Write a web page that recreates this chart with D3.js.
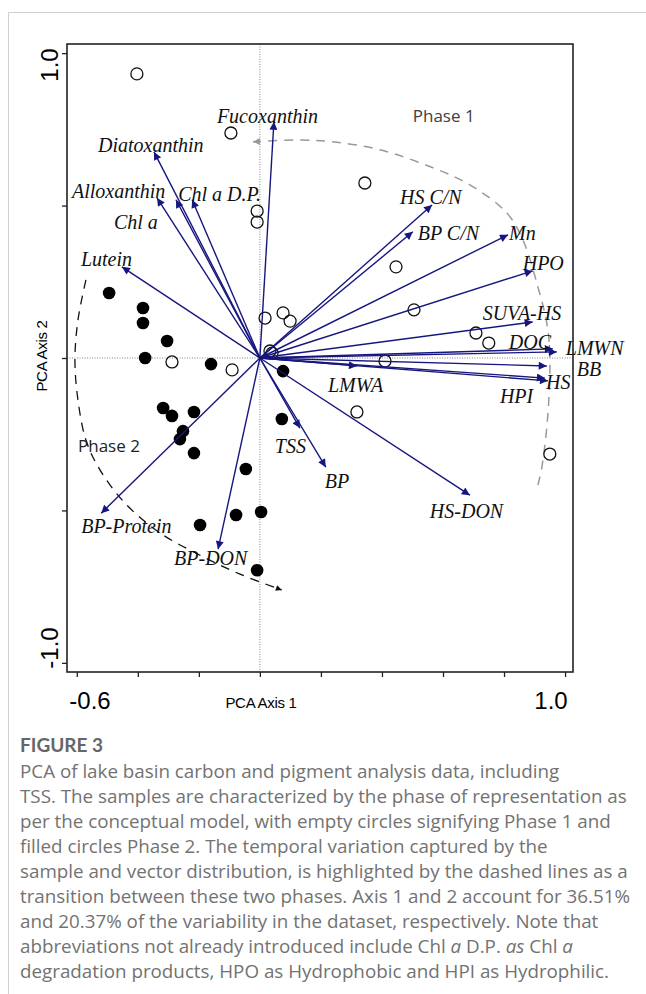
<!DOCTYPE html>
<html>
<head>
<meta charset="utf-8">
<script src="https://cdn.jsdelivr.net/npm/d3@7"></script>
<style>
  body { margin: 0; background: #fff; }
</style>
</head>
<body>
<div class="fig"></div>
<script>
// loading vectors (PCA Axis 1, PCA Axis 2)
const vectorNames = ["Fucoxanthin", "Diatoxanthin", "Alloxanthin", "Chl a", "Chl a D.P.", "Lutein",
  "HS C/N", "BP C/N", "Mn", "HPO", "SUVA-HS", "DOC", "LMWN", "BB", "HS", "HPI",
  "LMWA", "TSS", "BP", "HS-DON", "BP-Protein", "BP-DON"];
const vectorAxis1 = [0.046, -0.347, -0.337, -0.275, -0.222, -0.452,
  0.564, 0.501, 0.813, 0.894, 0.894, 0.960, 0.973, 0.940, 0.944, 0.934,
  0.318, 0.131, 0.216, 0.688, -0.520, -0.137];
const vectorAxis2 = [0.775, 0.676, 0.525, 0.519, 0.519, 0.299,
  0.502, 0.414, 0.404, 0.286, 0.118, 0.030, 0.020, -0.026, -0.075, -0.066,
  -0.026, -0.230, -0.358, -0.450, -0.509, -0.627];
// label offsets from arrow tip, in px
const labelNudge = [[-57, 1], [-56, 0], [-85, 0], [-62, 29], [-14, 1], [-41, -1],
  [-32, -1], [5, 8], [1, 5], [-10, -1], [-50, -2], [-44, 0], [9, 3], [30, 10], [-2, 8], [-45, 25],
  [-29, 26], [-25, 25], [-1, 21], [-40, 23], [-20, 20], [-44, 16]];

// samples
const phase1Axis1 = [-0.403, -0.095, -0.009, -0.009, 0.344, 0.446, 0.505, 0.708, 0.750, 0.410,
  0.318, 0.950, 0.017, 0.076, 0.099, 0.033, 0.040, -0.288, -0.091];
const phase1Axis2 = [0.932, 0.738, 0.482, 0.446, 0.574, 0.299, 0.158, 0.082, 0.049, -0.010,
  -0.177, -0.315, 0.131, 0.148, 0.121, 0.023, 0.016, -0.013, -0.039];
const phase2Axis1 = [-0.494, -0.383, -0.383, -0.304, -0.376, -0.160, 0.076, -0.317, -0.288, -0.216,
  -0.252, -0.262, 0.072, -0.216, -0.046, -0.078, 0.004, -0.196, -0.009];
const phase2Axis2 = [0.213, 0.164, 0.115, 0.056, 0.000, -0.020, -0.043, -0.164, -0.190, -0.177,
  -0.240, -0.266, -0.200, -0.312, -0.364, -0.515, -0.505, -0.548, -0.696];

// dashed transition lines
const arc1Axis1 = [0.911, 0.924, 0.944, 0.950, 0.940, 0.911, 0.862, 0.809, 0.688, 0.567, 0.393, 0.239, 0.131, -0.023];
const arc1Axis2 = [-0.417, -0.358, -0.181, 0.016, 0.115, 0.233, 0.387, 0.476, 0.568, 0.624, 0.683, 0.709, 0.715, 0.709];
const arc2Axis1 = [-0.570, -0.596, -0.606, -0.596, -0.570, -0.524, -0.442, -0.327, -0.196, -0.065, 0.072];
const arc2Axis2 = [0.256, 0.125, -0.007, -0.138, -0.269, -0.367, -0.476, -0.574, -0.647, -0.709, -0.761];

const xTicks = [-0.6, -0.4, -0.2, 0, 0.2, 0.4, 0.6, 0.8, 1.0];
const yTicks = [-1.0, -0.5, 0, 0.5, 1.0];

const captionTitle = "FIGURE 3";
const captionLines = [
  "PCA of lake basin carbon and pigment analysis data, including",
  "TSS. The samples are characterized by the phase of representation as",
  "per the conceptual model, with empty circles signifying Phase 1 and",
  "filled circles Phase 2. The temporal variation captured by the",
  "sample and vector distribution, is highlighted by the dashed lines as a",
  "transition between these two phases. Axis 1 and 2 account for 36.51%",
  "and 20.37% of the variability in the dataset, respectively. Note that",
  "abbreviations not already introduced include Chl |a| D.P. |as| Chl |a|",
  "degradation products, HPO as Hydrophobic and HPI as Hydrophilic."
];

const width = 646, height = 994;
const plot = { left: 67, right: 573, top: 44, bottom: 672 };
const navy = "#16167f";
const fmt = d3.formatLocale({ decimal: ".", thousands: ",", grouping: [3], currency: ["", ""], minus: "-" }).format(".1f");

const x = d3.scaleLinear().domain([-0.632, 1.026]).range([plot.left, plot.right]);
const y = d3.scaleLinear().domain([-1.03, 1.03]).range([plot.bottom, plot.top]);

const svg = d3.select(".fig").append("svg")
  .attr("width", width)
  .attr("height", height);

// frame of the figure panel
svg.append("path")
  .attr("d", `M8.5,${height}V12.5H${width}`)
  .attr("fill", "none")
  .attr("stroke", "#d0d0d0")
  .attr("stroke-width", 1);

const defs = svg.append("defs");
function head(id, color, w, h) {
  defs.append("marker")
    .attr("id", id)
    .attr("viewBox", "0 0 10 10")
    .attr("refX", 10).attr("refY", 5)
    .attr("markerWidth", w).attr("markerHeight", h)
    .attr("markerUnits", "userSpaceOnUse")
    .attr("orient", "auto")
    .append("path")
    .attr("d", "M0,0L10,5L0,10z")
    .attr("fill", color);
}
head("navyHead", navy, 12, 8);
head("grayHead", "#999", 10, 7);
head("blackHead", "#111", 9, 6);

// zero lines
svg.append("line")
  .attr("x1", x(0)).attr("x2", x(0))
  .attr("y1", plot.top).attr("y2", plot.bottom)
  .attr("stroke", "#666").attr("stroke-width", 0.8)
  .attr("stroke-dasharray", "1,1.5");
svg.append("line")
  .attr("x1", plot.left).attr("x2", plot.right)
  .attr("y1", y(0)).attr("y2", y(0))
  .attr("stroke", "#666").attr("stroke-width", 0.8)
  .attr("stroke-dasharray", "1,1.5");

// axes, ticks only
const xAxis = svg.append("g")
  .attr("transform", `translate(0,${plot.bottom})`)
  .call(d3.axisBottom(x).tickValues(xTicks).tickSize(5).tickFormat(""));
const yAxis = svg.append("g")
  .attr("transform", `translate(${plot.left},0)`)
  .call(d3.axisLeft(y).tickValues(yTicks).tickSize(5).tickFormat(""));
[xAxis, yAxis].forEach(g => {
  g.select(".domain").remove();
  g.selectAll("line").attr("stroke", "#222").attr("stroke-width", 1.3);
});

svg.append("rect")
  .attr("x", plot.left).attr("y", plot.top)
  .attr("width", plot.right - plot.left)
  .attr("height", plot.bottom - plot.top)
  .attr("fill", "none")
  .attr("stroke", "#222")
  .attr("stroke-width", 1.6);

// end tick labels
const big = "'Liberation Sans', Arial, sans-serif";
svg.append("text").attr("x", 90).attr("y", 709)
  .attr("text-anchor", "middle").attr("font-family", big).attr("font-size", 24)
  .text(fmt(xTicks[0]));
svg.append("text").attr("x", 551).attr("y", 709)
  .attr("text-anchor", "middle").attr("font-family", big).attr("font-size", 24)
  .text(fmt(xTicks[xTicks.length - 1]));
svg.append("text").attr("transform", "translate(58,65) rotate(-90)")
  .attr("text-anchor", "middle").attr("font-family", big).attr("font-size", 24)
  .text(fmt(yTicks[yTicks.length - 1]));
svg.append("text").attr("transform", "translate(58,648) rotate(-90)")
  .attr("text-anchor", "middle").attr("font-family", big).attr("font-size", 24)
  .text(fmt(yTicks[0]));

svg.append("text").attr("x", 261).attr("y", 708)
  .attr("text-anchor", "middle").attr("font-family", big).attr("font-size", 15)
  .attr("letter-spacing", -0.3)
  .text("PCA Axis 1");
svg.append("text").attr("transform", "translate(47,356) rotate(-90)")
  .attr("text-anchor", "middle").attr("font-family", big).attr("font-size", 15)
  .attr("letter-spacing", -0.3)
  .text("PCA Axis 2");

// transition lines
const line = d3.line().x(d => x(d[0])).y(d => y(d[1])).curve(d3.curveCatmullRom);
svg.append("path")
  .attr("d", line(d3.zip(arc1Axis1, arc1Axis2)))
  .attr("fill", "none").attr("stroke", "#999").attr("stroke-width", 1.5)
  .attr("stroke-dasharray", "9,7")
  .attr("marker-end", "url(#grayHead)");
svg.append("path")
  .attr("d", line(d3.zip(arc2Axis1, arc2Axis2)))
  .attr("fill", "none").attr("stroke", "#111").attr("stroke-width", 1.3)
  .attr("stroke-dasharray", "9,7")
  .attr("marker-end", "url(#blackHead)");

// samples
svg.append("g").selectAll("circle")
  .data(d3.zip(phase2Axis1, phase2Axis2))
  .join("circle")
  .attr("cx", d => x(d[0])).attr("cy", d => y(d[1]))
  .attr("r", 6.3)
  .attr("fill", "#000");
svg.append("g").selectAll("circle")
  .data(d3.zip(phase1Axis1, phase1Axis2))
  .join("circle")
  .attr("cx", d => x(d[0])).attr("cy", d => y(d[1]))
  .attr("r", 6)
  .attr("fill", "none")
  .attr("stroke", "#111")
  .attr("stroke-width", 1.3);

// vectors
const vectors = vectorNames.map((name, i) => ({
  name, v1: vectorAxis1[i], v2: vectorAxis2[i], dx: labelNudge[i][0], dy: labelNudge[i][1]
}));
svg.append("g").selectAll("line")
  .data(vectors)
  .join("line")
  .attr("x1", x(0)).attr("y1", y(0))
  .attr("x2", d => x(d.v1)).attr("y2", d => y(d.v2))
  .attr("stroke", navy)
  .attr("stroke-width", 1.4)
  .attr("marker-end", "url(#navyHead)");

svg.append("g").selectAll("text")
  .data(vectors)
  .join("text")
  .attr("x", d => x(d.v1) + d.dx)
  .attr("y", d => y(d.v2) + d.dy)
  .attr("font-family", "'Liberation Serif', 'Times New Roman', serif")
  .attr("font-style", "italic")
  .attr("font-size", 20)
  .attr("fill", "#111")
  .text(d => d.name);

// phase labels
const phaseFont = "'Open Sans', 'Noto Sans', sans-serif";
svg.append("text").attr("x", x(0.501)).attr("y", y(0.774))
  .attr("font-family", phaseFont).attr("font-size", 17).attr("fill", "#404040")
  .text("Phase 1");
svg.append("text").attr("x", x(-0.596)).attr("y", y(-0.308))
  .attr("font-family", phaseFont).attr("font-size", 17).attr("fill", "#222")
  .text("Phase 2");

// caption
svg.append("text").attr("x", 20).attr("y", 752)
  .attr("font-family", "Lato, 'Open Sans', sans-serif").attr("font-size", 19).attr("font-weight", 700)
  .attr("fill", "#666")
  .text(captionTitle);
const cap = svg.append("g")
  .attr("font-family", "'Open Sans', 'Noto Sans', sans-serif").attr("font-size", 18.8).attr("fill", "#727272");
captionLines.forEach((ln, i) => {
  const t = cap.append("text").attr("x", 20).attr("y", 778 + i * 25);
  ln.split("|").forEach((part, j) => {
    t.append("tspan").attr("font-style", j % 2 ? "italic" : null).text(part);
  });
});
</script>
</body>
</html>
